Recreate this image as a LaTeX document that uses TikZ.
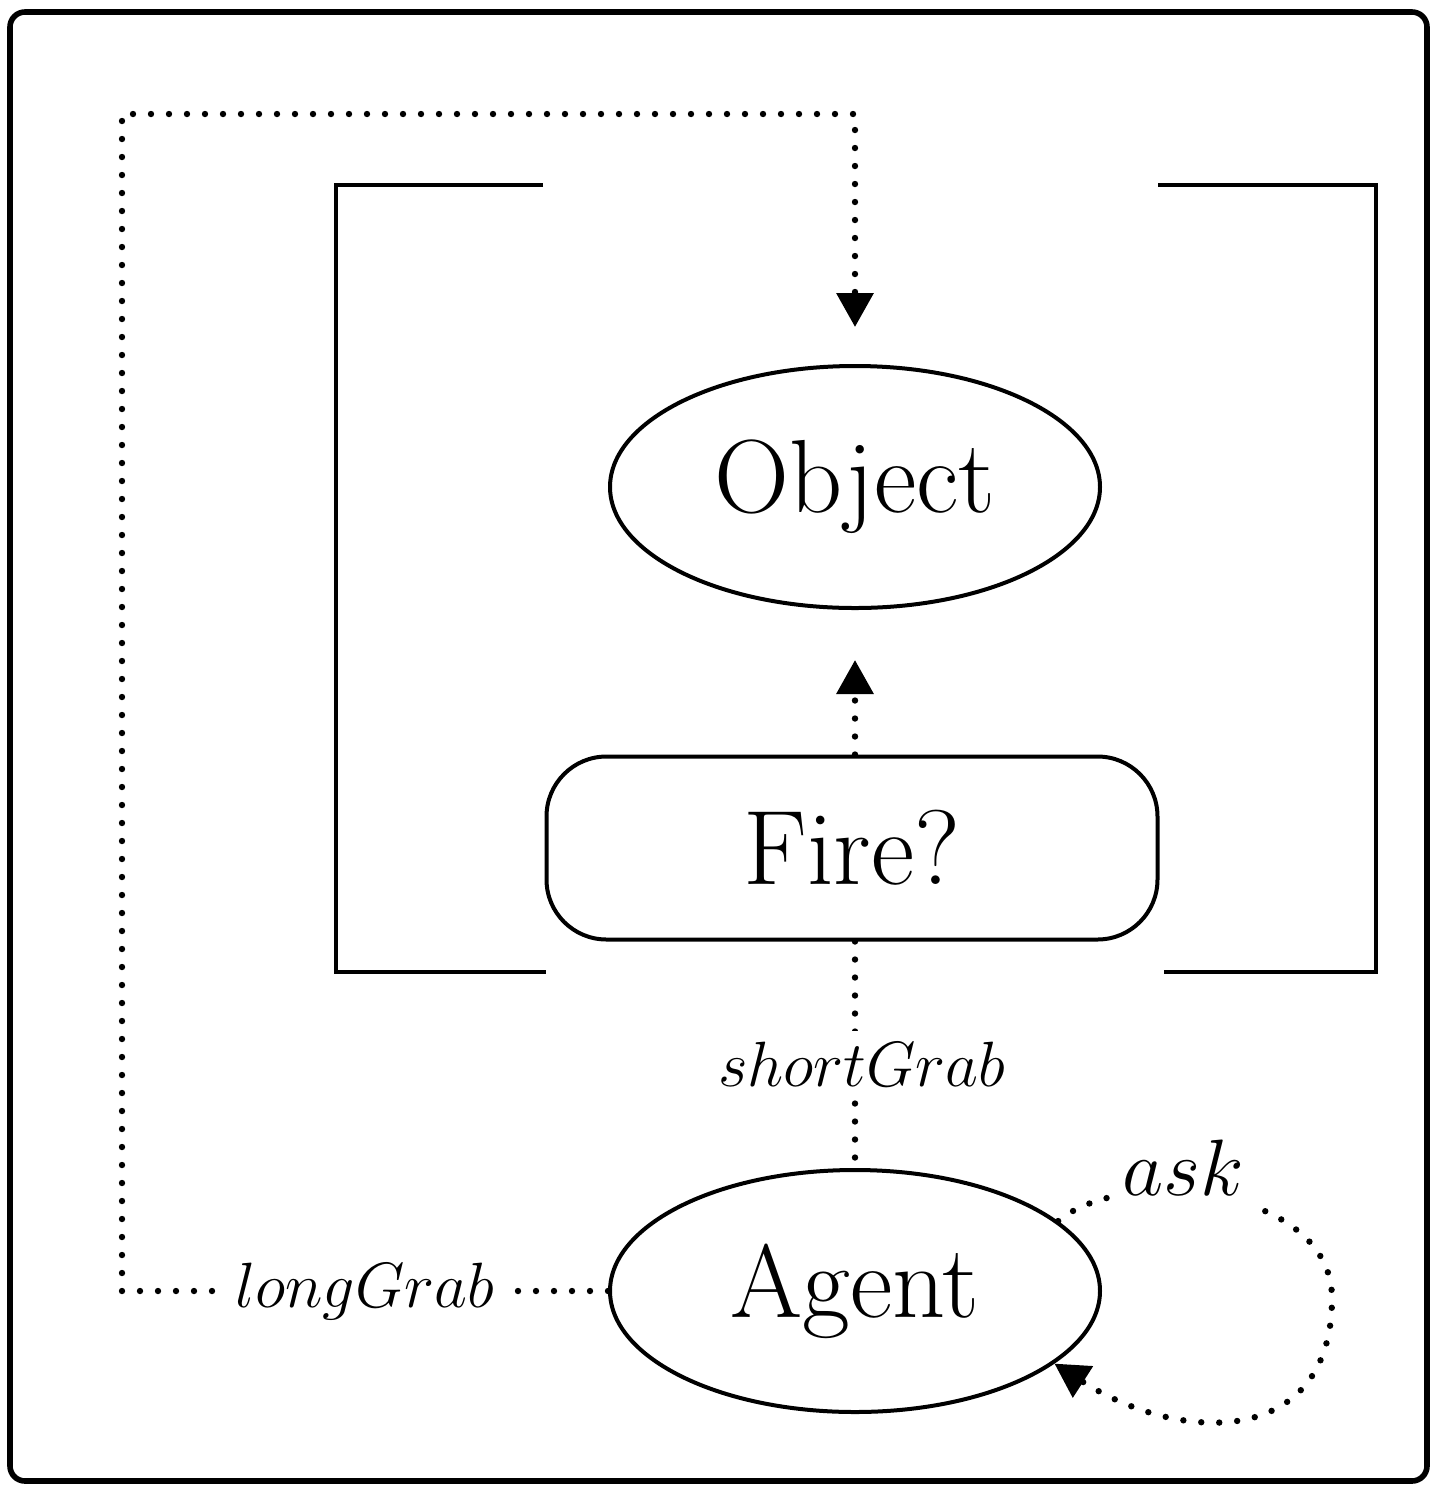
\documentclass[tikz,border=0pt]{standalone}
\usepackage{fix-cm}
\usetikzlibrary{arrows.meta,shapes.geometric}
\tikzset{
  dotline/.style={line width=1.6pt, line cap=round, dash pattern=on 0pt off 4.5pt},
  tip/.style={-{Triangle[length=8.5pt,width=9pt]}},
  stateell/.style={ellipse, draw, line width=1pt, inner sep=0pt,
    minimum width=122.5pt, minimum height=60.5pt, font=\fontsize{26}{30}\selectfont},
  firebox/.style={rectangle, draw, line width=1pt, rounded corners=15pt, inner sep=0pt,
    minimum width=152.75pt, minimum height=45.75pt, font=\fontsize{26.5}{30}\selectfont},
  lbl/.style={fill=white, inner sep=3pt, font=\fontsize{16}{19}\selectfont},
  asklbl/.style={fill=white, inner sep=3pt, font=\fontsize{20}{24}\selectfont},
  bracket/.style={line width=1.05pt}
}
\begin{document}
\begin{tikzpicture}[x=0.25pt, y=-0.25pt]
\useasboundingbox (0,0) rectangle (1436,1490);
\draw[line width=1.4pt, rounded corners=3.75pt] (10,12) rectangle (1427,1481);
% brackets
\draw[bracket] (543,185) -- (336,185) -- (336,972) -- (546,972);
\draw[bracket] (1158,185) -- (1376,185) -- (1376,972) -- (1164,972);
% nodes
\node[stateell] (obj) at (855,487) {Object};
\node[firebox] (fire) at (852,848) {Fire?};
\node[stateell] (agent) at (855,1291) {Agent};
% coordinates for the long connector
\coordinate (cBL) at (122,1291);
\coordinate (cTL) at (122,114);
\coordinate (cTR) at (855,114);
\coordinate (askR) at (1332,1298);
% Fire? -> Object
\draw[dotline, tip, shorten >=12.5pt] (fire.north -| obj) -- (obj.south);
% shortGrab
\draw[dotline] (fire.south -| agent) -- node[lbl, xshift=1.75pt, yshift=-2.5pt] {$shortGrab$} (agent.north);
% longGrab
\draw[dotline, tip, shorten >=9.25pt] (agent.west) -- node[lbl] {$longGrab$} (cBL) -- (cTL) -- (cTR) -- (obj.north);
% ask loop
\draw[dotline, tip] (agent.19) .. controls (1126,1164) and (1332,1188) .. (askR)
   .. controls (1332,1448) and (1181,1445) .. (agent.-20);
\node[asklbl] (ask) at (1183,1168) {$ask$};
\end{tikzpicture}
\end{document}
